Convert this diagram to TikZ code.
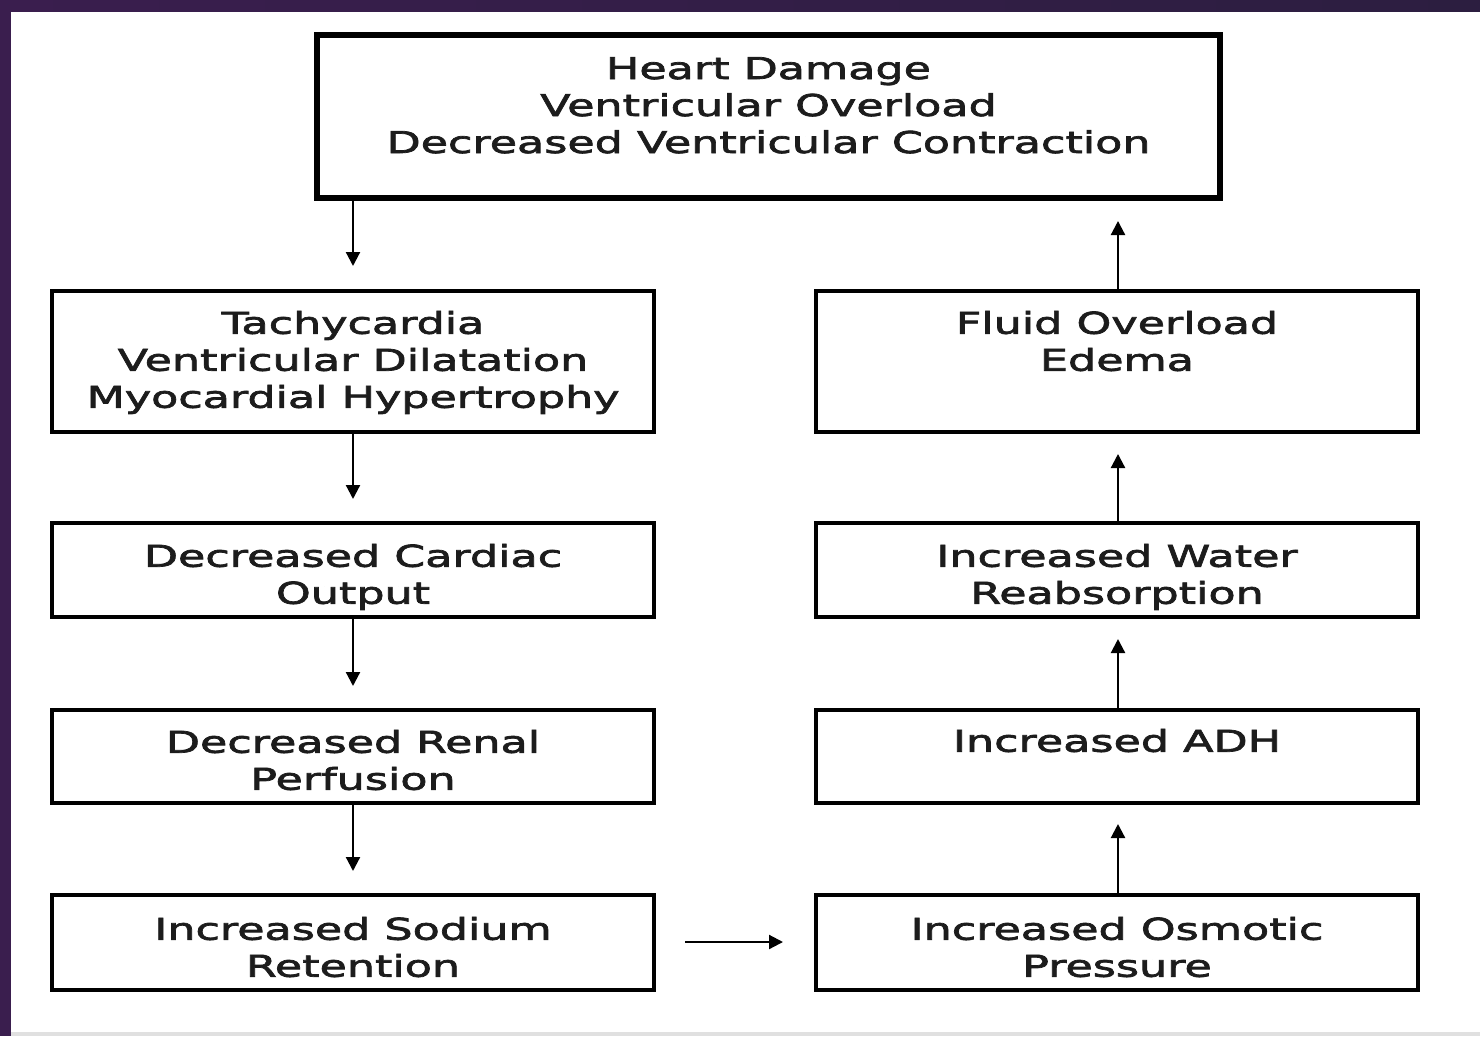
\documentclass[tikz,border=0pt]{standalone}
\usepackage{fontspec}
\setmainfont{DejaVu Sans}[FakeStretch=1.48,FakeBold=2.4]
\usetikzlibrary{arrows.meta}
\definecolor{txt}{HTML}{1C1C1C}
\definecolor{purpA}{HTML}{3A1E4E}
\definecolor{purpB}{HTML}{5E2C66}
\definecolor{purpC}{HTML}{2C1E40}
\tikzset{
  box/.style={draw=black, line width=4.5pt, fill=white, inner sep=0pt, minimum width=602pt},
  topbox/.style={box, line width=6pt, minimum width=903pt, minimum height=163pt},
  lbl/.style={anchor=base, align=center, inner sep=0pt, text=txt, font=\fontsize{30pt}{37pt}\selectfont},
  arr/.style={draw=black, line width=2.2pt, -{Triangle[length=14pt,width=14pt]}},
}
\begin{document}
\begin{tikzpicture}[x=1pt,y=-1pt]
\useasboundingbox (0,0) rectangle (1480,1036);
\fill[white] (0,0) rectangle (1480,1036);
\shade[left color=purpA, middle color=purpB, right color=purpC] (0,0) rectangle (1480,11);
\fill[purpA] (0,0) rectangle (11,1036);
\fill[black!12] (11,1032) rectangle (1480,1036);

% boxes
\node[topbox] (top) at (768.5,116.5) {};
\node[box, minimum height=141pt] (l1) at (353,361.5) {};
\node[box, minimum height=94pt] (l2) at (353,570) {};
\node[box, minimum height=93pt] (l3) at (353,756.5) {};
\node[box, minimum height=95pt] (l4) at (353,942.5) {};
\node[box, minimum height=141pt] (r1) at (1117,361.5) {};
\node[box, minimum height=94pt] (r2) at (1117,570) {};
\node[box, minimum height=93pt] (r3) at (1117,756.5) {};
\node[box, minimum height=95pt] (r4) at (1117,942.5) {};

% labels (base anchor = baseline of last line)
\node[lbl] (ttop) at ([yshift=-121pt]top.north) {Heart Damage\\Ventricular Overload\\Decreased Ventricular Contraction};
\node[lbl] (tl1) at ([yshift=-119pt]l1.north) {Tachycardia\\Ventricular Dilatation\\Myocardial Hypertrophy};
\node[lbl] (tl2) at ([yshift=-83pt]l2.north) {Decreased Cardiac\\Output};
\node[lbl] (tl3) at ([yshift=-82pt]l3.north) {Decreased Renal\\Perfusion};
\node[lbl] (tl4) at ([yshift=-84pt]l4.north) {Increased Sodium\\Retention};
\node[lbl] (tr1) at ([yshift=-82pt]r1.north) {Fluid Overload\\Edema};
\node[lbl] (tr2) at ([yshift=-83pt]r2.north) {Increased Water\\Reabsorption};
\node[lbl] (tr3) at ([yshift=-44pt]r3.north) {Increased ADH};
\node[lbl] (tr4) at ([yshift=-84pt]r4.north) {Increased Osmotic\\Pressure};

% arrow ends
\coordinate (a0) at (353,266);
\coordinate (a1) at (353,499);
\coordinate (a2) at (353,686);
\coordinate (a3) at (353,871);
\coordinate (h0) at (685,942);
\coordinate (h1) at (783,942);
\coordinate (b4) at (1118,824);
\coordinate (b3) at (1118,639);
\coordinate (b2) at (1118,454);
\coordinate (b1) at (1118,221);

\draw[arr] (top.south -| a0) -- (a0);
\draw[arr] (l1.south) -- (a1);
\draw[arr] (l2.south) -- (a2);
\draw[arr] (l3.south) -- (a3);
\draw[arr] (h0) -- (h1);
\draw[arr] (r4.north -| b4) -- (b4);
\draw[arr] (r3.north -| b3) -- (b3);
\draw[arr] (r2.north -| b2) -- (b2);
\draw[arr] (r1.north -| b1) -- (b1);
\end{tikzpicture}
\end{document}
